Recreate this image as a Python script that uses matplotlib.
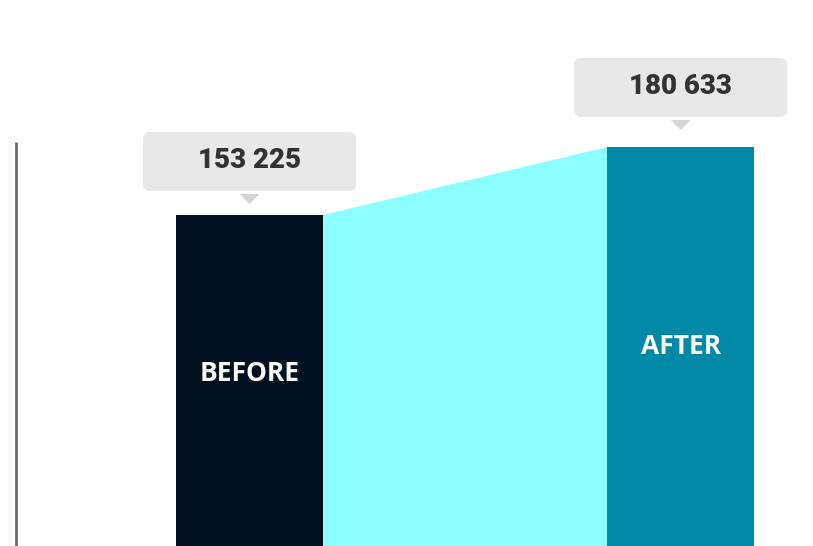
import matplotlib
matplotlib.use("Agg")
import matplotlib.pyplot as plt
from matplotlib.patches import FancyBboxPatch, Polygon
from matplotlib.transforms import IdentityTransform

# ─── Data ────────────────────────────────────────────────────────────────────
categories = ["BEFORE", "AFTER"]
values     = [153225, 180633]
labels     = ["153 225", "180 633"]

# ─── Styles ──────────────────────────────────────────────────────────────────
BAR_COLORS  = ["#00101f", "#0089a7"]
FILL_COLOR  = "#8cffff"
BOX_COLOR   = "#e8e8e8"
TRI_COLOR   = "#d5d5d5"
TEXT_DARK   = "#333333"
BAR_W       = 0.341
BOX_GAPS    = [24, 30]   # px between bar top and callout box

fig = plt.figure(figsize=(8.13, 5.46), dpi=100)
ax = fig.add_axes([0, 0, 1, 1])
ax.set_xlim(-0.579, 1.307)
ax.set_ylim(19750, 239900)
ax.axis("off")

x = list(range(len(categories)))

# connecting area between bars
x0 = x[0] + BAR_W / 2
x1 = x[1] - BAR_W / 2
ymin = ax.get_ylim()[0]
ax.add_patch(Polygon([(x0, ymin), (x0, values[0]), (x1, values[1]), (x1, ymin)],
                     closed=True, facecolor=FILL_COLOR, edgecolor="none", zorder=1))

ax.bar(x, values, width=BAR_W, color=BAR_COLORS, zorder=2)

# left axis line
ax.plot([-0.5418, -0.5418], [ymin, 182700], color="#6b6b6b", lw=2, zorder=3,
        solid_capstyle="butt")

# category labels inside bars
for xi, v, name in zip(x, values, categories):
    ymid = (v + ymin) / 2 + (2800 if name == "BEFORE" else 0)
    ax.text(xi, ymid, name, color="white", fontsize=19, fontweight="bold",
            family=["Open Sans", "DejaVu Sans"], ha="center", va="center", zorder=4)

# callouts (drawn in pixel coordinates)
fig.canvas.draw()
for xi, v, lab, gap in zip(x, values, labels, BOX_GAPS):
    px, py = ax.transData.transform((xi, v))
    bw, bh = 213, 59
    by = py + gap
    box = FancyBboxPatch((px - bw / 2, by), bw, bh,
                         boxstyle="round,pad=0,rounding_size=7",
                         facecolor=BOX_COLOR, edgecolor="none",
                         transform=IdentityTransform(), zorder=5)
    fig.patches.append(box)
    tri = Polygon([(px - 10, by - 3), (px + 10, by - 3), (px, by - 13)],
                  closed=True, facecolor=TRI_COLOR, edgecolor="none",
                  transform=IdentityTransform(), zorder=5)
    fig.patches.append(tri)
    fig.text(px / fig.bbox.width, (by + bh / 2 + 1) / fig.bbox.height, lab,
             color=TEXT_DARK, fontsize=20, fontweight="black",
             family=["Roboto", "DejaVu Sans"], ha="center", va="center", zorder=6)

fig.savefig("out.png", dpi=100)
